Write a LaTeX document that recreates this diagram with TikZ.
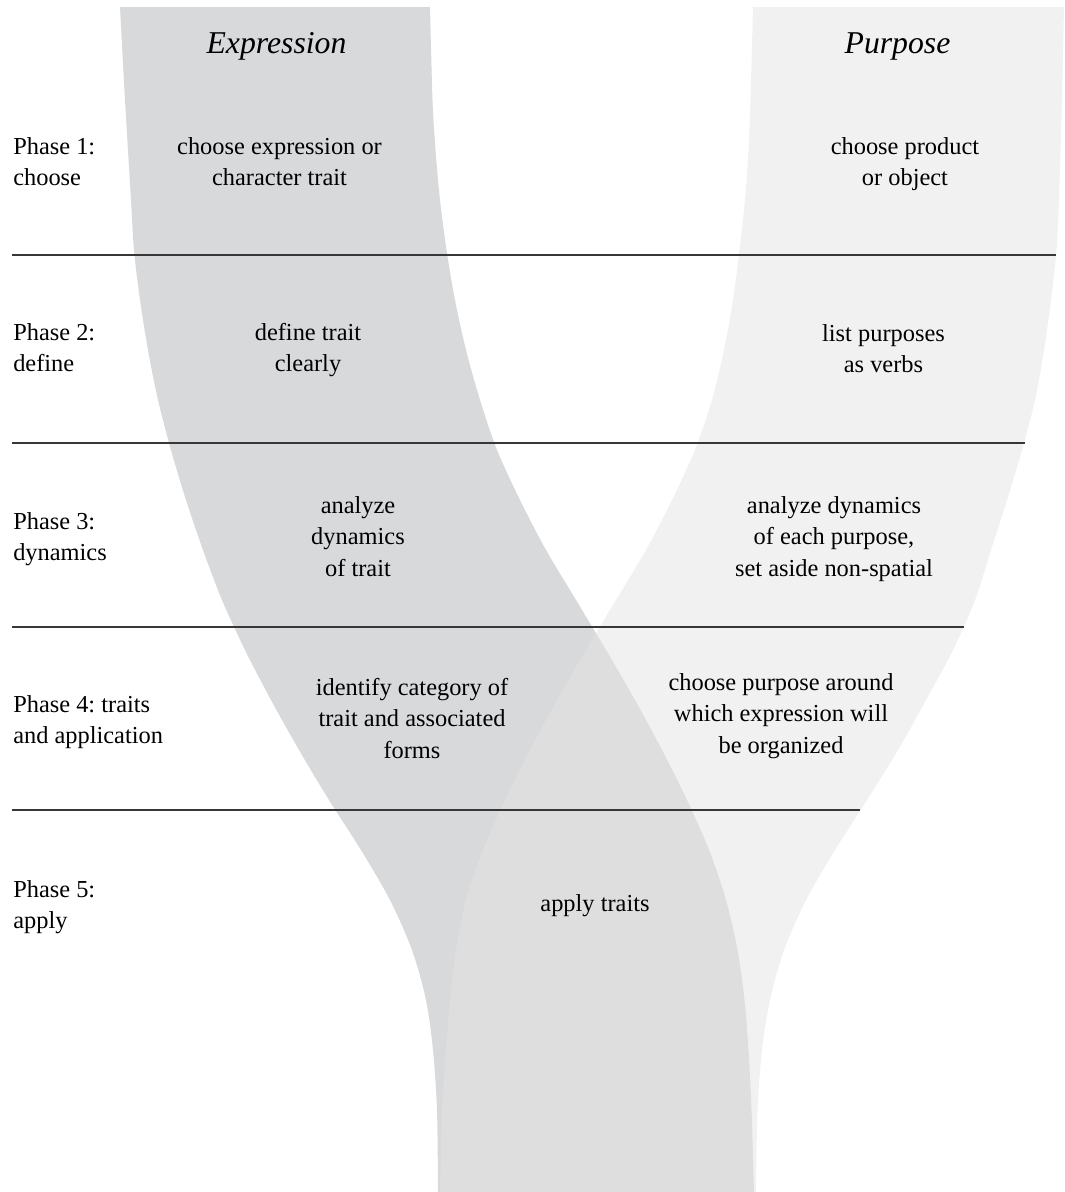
\documentclass[tikz,border=0pt]{standalone}
\usepackage{fontspec}
\setmainfont{Liberation Serif}
\frenchspacing
\definecolor{exprgray}{RGB}{216,217,219}
\definecolor{purpgray}{RGB}{228,228,228}
\definecolor{rulegray}{RGB}{55,55,55}
\newcommand\blockc[1]{\begin{tabular}[t]{@{}c@{}}#1\end{tabular}}
\newcommand\blockl[1]{\begin{tabular}[t]{@{}l@{}}#1\end{tabular}}
\begin{document}
\begin{tikzpicture}[x=0.75pt,y=-0.75pt,
  exprband/.style={fill=exprgray},
  purpband/.style={fill=purpgray, fill opacity=0.51},
  rowrule/.style={draw=rulegray, line width=1.1pt},
  txt/.style={inner sep=0pt, anchor=base, font=\fontsize{18.3}{23.8}\selectfont},
  lefttxt/.style={txt, anchor=base west},
  titletxt/.style={inner sep=0pt, anchor=base, font=\fontsize{23.8}{28}\selectfont\itshape},
]
\useasboundingbox (0,0) rectangle (1064,1192);
\fill[white] (0,0) rectangle (1064,1192);

% Expression band
\fill[exprband]
  plot[smooth] coordinates {(120,7) (125,100) (131,200) (134,250) (140,300) (148,350) (158,400) (171,450) (186,500) (203,550) (222,600) (245,650) (271,700) (299,750) (329,800) (361,850) (390,900) (412,950) (426,1000) (433,1050) (437,1110) (438,1192)}
  -- plot[smooth] coordinates {(754,1192) (751.5,1110) (748.5,1050) (744.5,1000) (737.5,950) (726,900) (709,850) (687,800) (662,750) (635,700) (606,650) (576,600) (546,550) (520,500) (497,450) (480,400) (466,350) (455,300) (446.5,250) (440,200) (435.5,150) (432.5,100) (430,7)}
  -- cycle;

% Purpose band
\fill[purpband]
  plot[smooth] coordinates {(753,7) (750.5,100) (748.5,150) (745,200) (739.5,250) (733,300) (724,350) (712,400) (695,450) (672,500) (646,550) (616,600) (586,650) (557,700) (530,750) (505,800) (483,850) (466,900) (456,950) (450,1000) (446,1050) (442,1110) (440,1192)}
  -- plot[smooth] coordinates {(756,1192) (757.5,1110) (762,1050) (770,1000) (784,950) (806,900) (835,850) (867,800) (898,750) (926,700) (953,650) (975,600) (991,550) (1007,500) (1022,450) (1035,400) (1044,350) (1051,300) (1056.5,250) (1059,200) (1062,100) (1064,7)}
  -- cycle;

% row rules
\coordinate (r1l) at (12,255);  \coordinate (r1r) at (1056,255);
\coordinate (r2l) at (12,443);  \coordinate (r2r) at (1025,443);
\coordinate (r3l) at (12,627);  \coordinate (r3r) at (964,627);
\coordinate (r4l) at (12,810);  \coordinate (r4r) at (860,810);
\draw[rowrule] (r1l) -- (r1r);
\draw[rowrule] (r2l) -- (r2r);
\draw[rowrule] (r3l) -- (r3r);
\draw[rowrule] (r4l) -- (r4r);

% titles
\node[titletxt] (exprtitle) at (276.5,53) {Expression};
\node[titletxt] (purptitle) at (897.5,53) {Purpose};

% phase 1
\node[lefttxt] (ph1) at (13,154) {\blockl{Phase 1:\\choose}};
\node[txt] (e1) at (279.5,154) {\blockc{choose expression or\\character trait}};
\node[txt] (p1) at (905,154) {\blockc{choose product\\or object}};

% phase 2
\node[lefttxt] (ph2) at (13,340) {\blockl{Phase 2:\\define}};
\node[txt] (e2) at (308,340) {\blockc{define trait\\clearly}};
\node[txt] (p2) at (883.5,341) {\blockc{list purposes\\as verbs}};

% phase 3
\node[lefttxt] (ph3) at (13,529) {\blockl{Phase 3:\\dynamics}};
\node[txt] (e3) at (358,513) {\blockc{analyze\\dynamics\\of trait}};
\node[txt] (p3) at (834,513) {\blockc{analyze dynamics\\of each purpose,\\set aside non-spatial}};

% phase 4
\node[lefttxt] (ph4) at (13,712) {\blockl{Phase 4: traits\\and application}};
\node[txt] (e4) at (412,695) {\blockc{identify category of\\trait and associated\\forms}};
\node[txt] (p4) at (781,690) {\blockc{choose purpose around\\which expression will\\be organized}};

% phase 5
\node[lefttxt] (ph5) at (13,897) {\blockl{Phase 5:\\apply}};
\node[txt] (e5) at (595,911) {apply traits};
\end{tikzpicture}
\end{document}
